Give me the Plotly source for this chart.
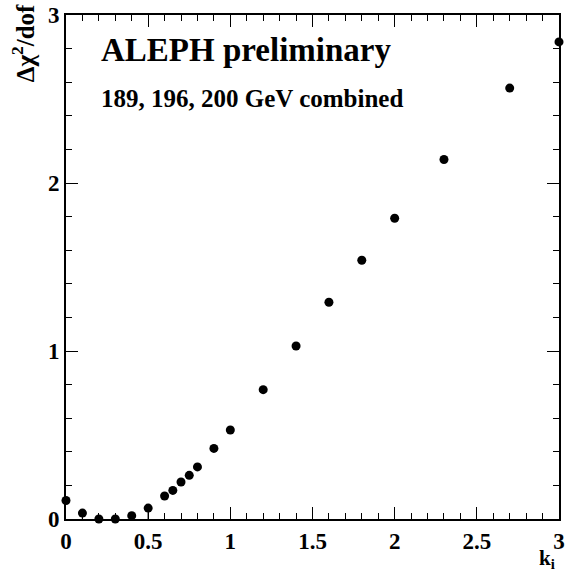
import plotly.graph_objects as go

k_values = [0.0, 0.1, 0.2, 0.3, 0.4, 0.5, 0.6, 0.65, 0.7, 0.75, 0.8, 0.9, 1.0,
            1.2, 1.4, 1.6, 1.8, 2.0, 2.3, 2.7, 3.0]
dchi2 = [0.11, 0.035, 0.0, 0.0, 0.02, 0.065, 0.137, 0.17, 0.22, 0.26, 0.31, 0.42, 0.53,
         0.77, 1.03, 1.29, 1.54, 1.79, 2.14, 2.565, 2.84]
err_minus = [0, 0.035, 0, 0, 0.02, 0.065, 0, 0, 0, 0, 0, 0, 0,
             0, 0, 0, 0, 0, 0, 0, 0]

x_ticks = [0, 0.5, 1, 1.5, 2, 2.5, 3]
x_ticklabels = ["0", "0.5", "1", "1.5", "2", "2.5", "3"]
y_ticks = [0, 1, 2, 3]
y_ticklabels = ["0", "1", "2", "3"]

FONT = "Liberation Serif"

fig = go.Figure()
fig.add_trace(go.Scatter(
    x=k_values, y=dchi2, mode="markers",
    marker=dict(color="black", size=9, symbol="circle"),
    error_y=dict(type="data", symmetric=False, array=[0]*len(err_minus),
                 arrayminus=err_minus, color="black", thickness=1.2, width=0),
    cliponaxis=False,
))

axis_common = dict(
    showgrid=False, zeroline=False, showline=True, linecolor="black", linewidth=2,
    mirror="ticks", ticks="inside", tickcolor="black", tickwidth=1.2, automargin=False,
    tickfont=dict(family=FONT, size=23, color="black", weight="bold"),
)

fig.update_layout(
    width=567, height=573,
    margin=dict(l=66, r=8, t=15, b=54),
    paper_bgcolor="white", plot_bgcolor="white",
    showlegend=False,
    xaxis=dict(range=[0, 3], tickvals=x_ticks, ticktext=x_ticklabels, ticklen=12,
               minor=dict(dtick=0.1, ticks="inside", ticklen=6, tickcolor="black", tickwidth=1),
               **axis_common),
    yaxis=dict(range=[0, 3], tickvals=y_ticks, ticktext=y_ticklabels, ticklen=12,
               minor=dict(dtick=0.2, ticks="inside", ticklen=6, tickcolor="black", tickwidth=1),
               **axis_common),
    annotations=[
        dict(text="ALEPH preliminary", xref="paper", yref="paper",
             x=0.066, y=0.971, xanchor="left", yanchor="top", showarrow=False,
             font=dict(family=FONT, size=33, color="black", weight="bold")),
        dict(text="189, 196, 200 GeV combined", xref="paper", yref="paper",
             x=0.066, y=0.866, xanchor="left", yanchor="top", showarrow=False,
             font=dict(family=FONT, size=25, color="black", weight="bold")),
        dict(text="Δχ<sup>2</sup>/dof", xref="paper", yref="paper",
             x=-0.05, y=1.026, xanchor="right", yanchor="top", textangle=-90, showarrow=False,
             font=dict(family=FONT, size=25, color="black", weight="bold")),
        dict(text="k<sub>i</sub>", xref="paper", yref="paper",
             x=0.995, y=-0.049, xanchor="right", yanchor="top", showarrow=False,
             font=dict(family=FONT, size=21, color="black", weight="bold")),
    ],
)

fig.write_html("out.html", config={"displayModeBar": False},
               post_script="document.body.style.margin='0';document.body.style.overflow='hidden';")
